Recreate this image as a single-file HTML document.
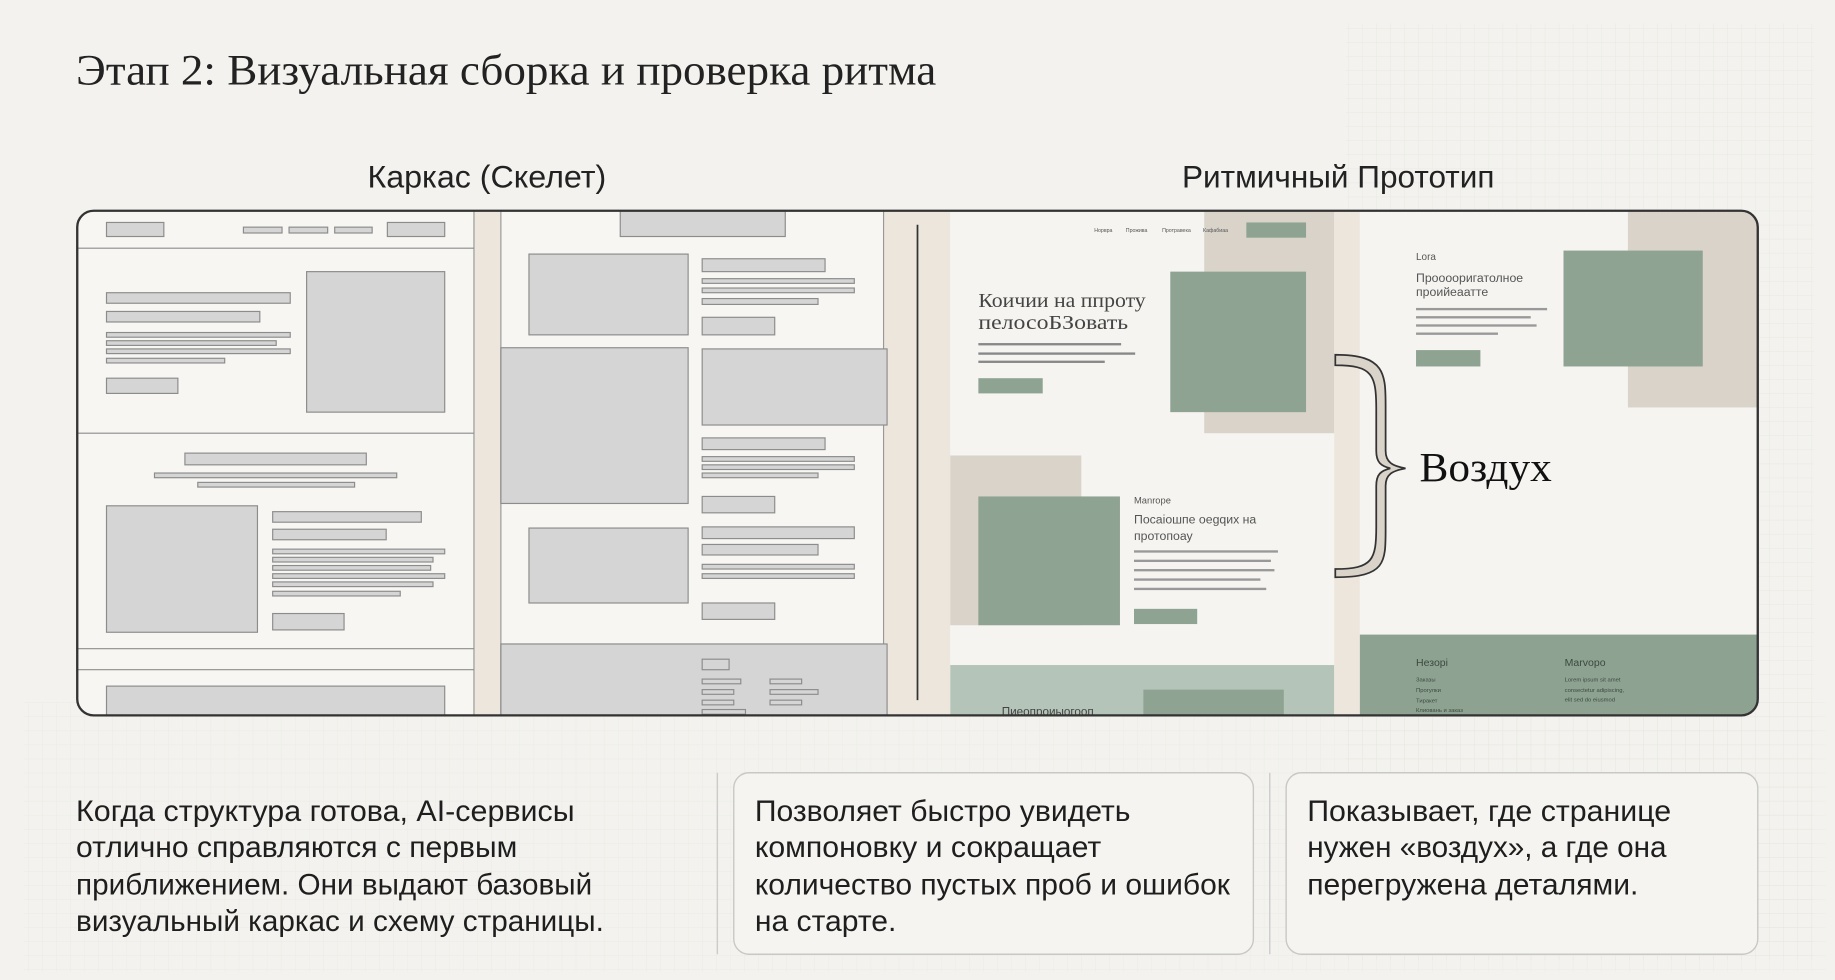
<!DOCTYPE html>
<html><head><meta charset="utf-8"><style>
html,body{margin:0;padding:0;background:#f3f2ee;}
svg{display:block;}
.sans{font-family:"Liberation Sans","DejaVu Sans",sans-serif;}
.serif{font-family:"Liberation Serif","DejaVu Serif",serif;}
</style></head><body>
<svg width="1835" height="980" viewBox="0 0 1568 837" preserveAspectRatio="none" xmlns="http://www.w3.org/2000/svg">
<defs>
<pattern id="grid" width="12" height="12" patternUnits="userSpaceOnUse">
<path d="M12 0H0V12" fill="none" stroke="#e3e2dc" stroke-width="0.6"/>
</pattern>
<clipPath id="pc"><rect x="66" y="180" width="1436" height="431" rx="14"/></clipPath>
</defs>
<rect width="1568" height="837" fill="#f3f2ee"/>
<rect x="1150" y="20" width="400" height="800" fill="url(#grid)" opacity="0.8"/>
<rect x="20" y="600" width="1540" height="230" fill="url(#grid)" opacity="0.6"/>

<text x="65" y="72" class="serif" font-size="37" fill="#222" textLength="735" lengthAdjust="spacingAndGlyphs">Этап 2: Визуальная сборка и проверка ритма</text>
<text x="314" y="160" class="sans" font-size="27" fill="#222" textLength="204" lengthAdjust="spacingAndGlyphs">Каркас (Скелет)</text>
<text x="1010" y="160" class="sans" font-size="27" fill="#222" textLength="267" lengthAdjust="spacingAndGlyphs">Ритмичный Прототип</text>

<g clip-path="url(#pc)">
<rect x="66" y="180" width="1436" height="431" fill="#f7f6f2"/>
<rect x="405" y="180" width="23" height="431" fill="#ece6dc"/>
<rect x="755" y="180" width="57" height="431" fill="#ece6dc"/>
<rect x="1140" y="180" width="22" height="431" fill="#ece6dc"/>
<line x1="784" y1="192" x2="784" y2="598" stroke="#333" stroke-width="1.5"/>
<line x1="405" y1="180" x2="405" y2="611" stroke="#999" stroke-width="1"/>
<line x1="428" y1="180" x2="428" y2="611" stroke="#999" stroke-width="1"/>
<line x1="755" y1="180" x2="755" y2="611" stroke="#999" stroke-width="1"/>

<g fill="#d5d5d5" stroke="#8c8c8c" stroke-width="1">
<rect x="91" y="190" width="49" height="12"/>
<rect x="208" y="194" width="33" height="5"/><rect x="247" y="194" width="33" height="5"/><rect x="286" y="194" width="32" height="5"/>
<rect x="331" y="190" width="49" height="12"/>
<rect x="91" y="250" width="157" height="9"/><rect x="91" y="266" width="131" height="9"/>
<rect x="91" y="284" width="157" height="4"/><rect x="91" y="291" width="145" height="4"/><rect x="91" y="298" width="157" height="4"/><rect x="91" y="306" width="101" height="4"/>
<rect x="91" y="323" width="61" height="13"/>
<rect x="262" y="232" width="118" height="120"/>
<rect x="158" y="387" width="155" height="10"/><rect x="132" y="404" width="207" height="4"/><rect x="169" y="412" width="134" height="4"/>
<rect x="91" y="432" width="129" height="108"/>
<rect x="233" y="437" width="127" height="9"/><rect x="233" y="452" width="97" height="9"/>
<rect x="233" y="469" width="147" height="4"/><rect x="233" y="476" width="137" height="4"/><rect x="233" y="483" width="135" height="4"/><rect x="233" y="490" width="147" height="4"/><rect x="233" y="497" width="137" height="4"/><rect x="233" y="505" width="109" height="4"/>
<rect x="233" y="524" width="61" height="14"/>
<rect x="91" y="586" width="289" height="30"/>
<rect x="530" y="178" width="141" height="24"/>
<rect x="452" y="217" width="136" height="69"/>
<rect x="600" y="221" width="105" height="11"/><rect x="600" y="238" width="130" height="4"/><rect x="600" y="246" width="130" height="4"/><rect x="600" y="255" width="99" height="5"/>
<rect x="600" y="271" width="62" height="15"/>
<rect x="428" y="297" width="160" height="133"/>
<rect x="600" y="298" width="158" height="65"/>
<rect x="600" y="374" width="105" height="10"/><rect x="600" y="390" width="130" height="4"/><rect x="600" y="397" width="130" height="4"/><rect x="600" y="404" width="99" height="4"/>
<rect x="600" y="424" width="62" height="14"/>
<rect x="452" y="451" width="136" height="64"/>
<rect x="600" y="450" width="130" height="10"/><rect x="600" y="465" width="99" height="9"/><rect x="600" y="482" width="130" height="4"/><rect x="600" y="490" width="130" height="4"/>
<rect x="600" y="515" width="62" height="14"/>
<rect x="428" y="550" width="330" height="65"/>
<rect x="600" y="563" width="23" height="9"/>
<rect x="600" y="580" width="33" height="4"/><rect x="658" y="580" width="27" height="4"/><rect x="600" y="589" width="27" height="4"/><rect x="658" y="589" width="41" height="4"/><rect x="600" y="598" width="27" height="4"/><rect x="658" y="598" width="27" height="4"/><rect x="600" y="606" width="37" height="4"/>
</g>
<g stroke="#8c8c8c" stroke-width="1">
<line x1="66" y1="212" x2="405" y2="212"/>
<line x1="66" y1="370" x2="405" y2="370"/>
<line x1="66" y1="554" x2="405" y2="554"/>
<line x1="66" y1="572" x2="405" y2="572"/>
</g>

<rect x="812" y="180" width="328" height="431" fill="#f5f4f0"/>
<rect x="1029" y="180" width="111" height="190" fill="#d9d3ca"/>
<rect x="1000" y="232" width="116" height="120" fill="#8fa393"/>
<g class="sans" font-size="4.5" fill="#555">
<text x="935" y="198">Норвра</text><text x="962" y="198">Прожива</text><text x="993" y="198">Протравека</text><text x="1028" y="198">Кафабиаа</text>
</g>
<rect x="1065" y="190" width="51" height="13" fill="#8fa393"/>
<text x="836" y="262" class="serif" font-size="17" fill="#444" textLength="143" lengthAdjust="spacingAndGlyphs">Коичии на ппроту</text>
<text x="836" y="281" class="serif" font-size="17" fill="#444" textLength="128" lengthAdjust="spacingAndGlyphs">пелосоБЗовать</text>
<g fill="#888"><rect x="836" y="293" width="122" height="2"/><rect x="836" y="301" width="134" height="2"/><rect x="836" y="308" width="108" height="2"/></g>
<rect x="836" y="323" width="55" height="13" fill="#8fa393"/>
<rect x="812" y="389" width="112" height="145" fill="#d9d3ca"/>
<rect x="836" y="424" width="121" height="110" fill="#8fa393"/>
<text x="969" y="430" class="sans" font-size="8" fill="#555">Manrope</text>
<text x="969" y="447" class="sans" font-size="10.5" fill="#555">Посаioшпе оеgqих на</text>
<text x="969" y="461" class="sans" font-size="10.5" fill="#555">протопоау</text>
<g fill="#999"><rect x="969" y="470" width="123" height="2"/><rect x="969" y="478" width="117" height="2"/><rect x="969" y="486" width="120" height="2"/><rect x="969" y="494" width="108" height="2"/><rect x="969" y="502" width="113" height="2"/></g>
<rect x="969" y="520" width="54" height="13" fill="#8fa393"/>
<rect x="812" y="568" width="328" height="43" fill="#b5c4b8"/>
<rect x="977" y="589" width="120" height="22" fill="#8fa393"/>
<text x="856" y="611" class="sans" font-size="10" fill="#444">Пиеопроиыогооп</text>

<rect x="1162" y="180" width="340" height="431" fill="#f5f4f0"/>
<rect x="1391" y="180" width="111" height="168" fill="#d9d3ca"/>
<rect x="1336" y="214" width="119" height="99" fill="#8fa393"/>
<text x="1210" y="222" class="sans" font-size="8.5" fill="#555">Lora</text>
<text x="1210" y="241" class="sans" font-size="10.5" fill="#555">Прооооригатолное</text>
<text x="1210" y="253" class="sans" font-size="10.5" fill="#555">проийеаатте</text>
<g fill="#999"><rect x="1210" y="263" width="112" height="2"/><rect x="1210" y="270" width="98" height="2"/><rect x="1210" y="277" width="103" height="2"/><rect x="1210" y="284" width="70" height="2"/></g>
<rect x="1210" y="299" width="55" height="14" fill="#8fa393"/>
<rect x="1162" y="542" width="340" height="69" fill="#8ea292"/>
<text x="1210" y="569" class="sans" font-size="9" fill="#3a4a3e">Незорi</text>
<text x="1337" y="569" class="sans" font-size="9" fill="#3a4a3e">Marvopo</text>
<g class="sans" font-size="5" fill="#3a4a3e">
<text x="1210" y="582">Заказы</text><text x="1210" y="591">Прогулки</text><text x="1210" y="600">Тиракет</text><text x="1210" y="608">Клиовань и заказ</text>
<text x="1337" y="582">Lorem ipsum sit amet</text><text x="1337" y="591">consectetur adipiscing,</text><text x="1337" y="599">elit sed do eiusmod</text>
</g>
</g>
<rect x="66" y="180" width="1436" height="431" rx="14" fill="none" stroke="#333" stroke-width="2"/>

<path d="M1141 303 C1185 303 1184 320 1184 350 L1184 385 C1184 395 1190 398 1201 400 C1190 402 1184 405 1184 415 L1184 450 C1184 480 1185 493 1141 493 L1141 486 C1173 486 1176 478 1176 450 L1176 415 C1176 405 1180 402 1188 400 C1180 398 1176 395 1176 385 L1176 350 C1176 320 1173 312 1141 312 Z" fill="#d9d3ca" stroke="#333" stroke-width="1.5"/>
<text x="1213" y="411" class="serif" font-size="35" fill="#111" textLength="113" lengthAdjust="spacingAndGlyphs">Воздух</text>

<line x1="613" y1="660" x2="613" y2="815" stroke="#ccc" stroke-width="1.2"/>
<line x1="1085" y1="660" x2="1085" y2="815" stroke="#ccc" stroke-width="1.2"/>
<rect x="627" y="660" width="444" height="155" rx="13" fill="#f5f4f1" stroke="#c8c8c4" stroke-width="1.2"/>
<rect x="1099" y="660" width="403" height="155" rx="13" fill="#f5f4f1" stroke="#c8c8c4" stroke-width="1.2"/>
<g class="sans" font-size="25" fill="#1e1e1e" lengthAdjust="spacingAndGlyphs">
<text x="65" y="701" textLength="426" lengthAdjust="spacingAndGlyphs">Когда структура готова, AI-сервисы</text>
<text x="65" y="732" textLength="377" lengthAdjust="spacingAndGlyphs">отлично справляются с первым</text>
<text x="65" y="764" textLength="441" lengthAdjust="spacingAndGlyphs">приближением. Они выдают базовый</text>
<text x="65" y="795" textLength="451" lengthAdjust="spacingAndGlyphs">визуальный каркас и схему страницы.</text>
<text x="645" y="701" textLength="321" lengthAdjust="spacingAndGlyphs">Позволяет быстро увидеть</text>
<text x="645" y="732" textLength="296" lengthAdjust="spacingAndGlyphs">компоновку и сокращает</text>
<text x="645" y="764" textLength="406" lengthAdjust="spacingAndGlyphs">количество пустых проб и ошибок</text>
<text x="645" y="795" textLength="121" lengthAdjust="spacingAndGlyphs">на старте.</text>
<text x="1117" y="701" textLength="311" lengthAdjust="spacingAndGlyphs">Показывает, где странице</text>
<text x="1117" y="732" textLength="307" lengthAdjust="spacingAndGlyphs">нужен «воздух», а где она</text>
<text x="1117" y="764" textLength="283" lengthAdjust="spacingAndGlyphs">перегружена деталями.</text>
</g>
</svg>
</body></html>
